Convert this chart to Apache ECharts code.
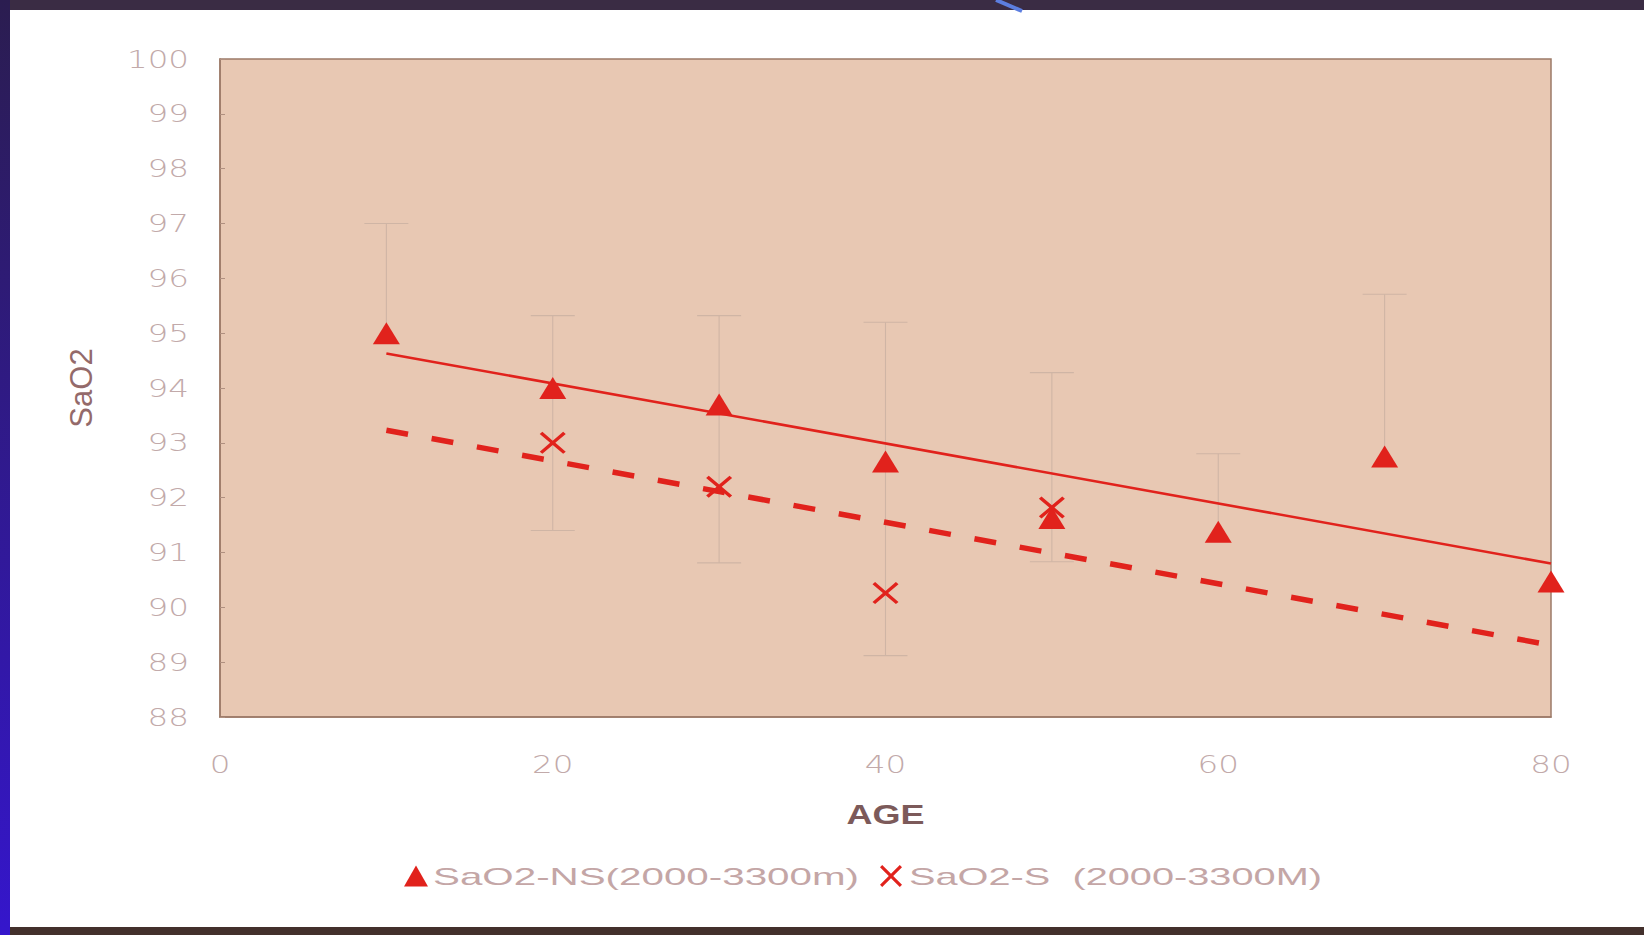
<!DOCTYPE html>
<html>
<head>
<meta charset="utf-8">
<script src="https://cdn.jsdelivr.net/npm/echarts@6/dist/echarts.min.js"></script>
<style>
html,body{margin:0;padding:0;background:#fff;}
#main{width:1644px;height:935px;}
#main text{white-space:pre;}
</style>
</head>
<body>
<div id="main"></div>
<script>
// ---- data ----
const nsName = 'SaO2-NS(2000-3300m)';
const sName = 'SaO2-S  (2000-3300M)';
const nsAges = [10, 20, 30, 40, 50, 60, 70, 80];
const nsValues = [95.0, 94.0, 93.7, 92.66, 91.63, 91.38, 92.75, 90.47];
const sAges = [20, 30, 40, 50];
const sValues = [93.0, 92.2, 90.26, 91.82];
const errAges = [10, 20, 30, 40, 50, 60, 70];
const errHigh = [97.0, 95.32, 95.32, 95.2, 94.28, 92.8, 95.71];
const errLow = [95.0, 91.4, 90.81, 89.12, 90.83, 91.38, 92.75];
const errLowCap = [0, 1, 1, 1, 1, 0, 0];
const trendAges = [10, 80];
const trendNS = [94.63, 90.8];
const trendS = [93.23, 89.31];
const xTicks = [0, 20, 40, 60, 80];
const yTicks = [88, 89, 90, 91, 92, 93, 94, 95, 96, 97, 98, 99, 100];

const RED = '#e1221c';
const xPath = 'path://M0,2L2,0L10,8L18,0L20,2L12,10L20,18L18,20L10,12L2,20L0,18L8,10Z';

const chart = echarts.init(document.getElementById('main'), null, {renderer: 'svg'});

const option = {
  animation: false,
  backgroundColor: '#ffffff',
  graphic: [
    {type: 'rect', z: 100, shape: {x: 0, y: 0, width: 1644, height: 10}, style: {fill: '#3a2c44'}, silent: true},
    {type: 'rect', z: 100, shape: {x: 0, y: 927, width: 1644, height: 8}, style: {fill: '#43302c'}, silent: true},
    {type: 'rect', z: 101, shape: {x: 0, y: 0, width: 10, height: 935}, silent: true,
      style: {fill: new echarts.graphic.LinearGradient(0, 0, 0, 1, [
        {offset: 0, color: '#2b1d50'}, {offset: 1, color: '#3516cc'}])}},
    {type: 'line', z: 102, shape: {x1: 996, y1: 0, x2: 1022, y2: 11}, style: {stroke: '#5c7ee0', lineWidth: 4}, silent: true}
  ],
  grid: {
    left: 220, right: 93, top: 59, bottom: 218,
    show: true, backgroundColor: '#e8c8b3', borderColor: '#9c7a68', borderWidth: 1.5
  },
  xAxis: {
    type: 'value', min: xTicks[0], max: xTicks[xTicks.length - 1], interval: xTicks[1] - xTicks[0],
    splitLine: {show: false},
    axisLine: {show: true, lineStyle: {color: '#9c7a68', width: 1.5}},
    axisTick: {show: false},
    axisLabel: {margin: 35, fontSize: 25, fontFamily: 'DejaVu Sans', fontWeight: 300, color: '#c2aaaa'},
    name: 'AGE', nameLocation: 'middle', nameGap: 84,
    nameTextStyle: {fontSize: 27, fontFamily: 'Liberation Sans', fontWeight: 'bold', color: '#7c5a5a'}
  },
  yAxis: {
    type: 'value', min: yTicks[0], max: yTicks[yTicks.length - 1], interval: 1,
    splitLine: {show: false},
    axisLine: {show: true, lineStyle: {color: '#9c7a68', width: 1.5}},
    axisTick: {show: true, inside: true, length: 5, lineStyle: {color: '#b09080'}},
    axisLabel: {margin: 31, fontSize: 25, fontFamily: 'DejaVu Sans', fontWeight: 300, color: '#c2aaaa'},
    name: 'SaO2', nameLocation: 'middle', nameGap: 123, nameRotate: 90,
    nameTextStyle: {fontSize: 31, fontFamily: 'Liberation Sans', color: '#946a6a'}
  },
  legend: [
    {data: [nsName], left: 399, top: 859, itemWidth: 24, itemHeight: 21, itemGap: 0,
      textStyle: {fontSize: 24, fontFamily: 'Liberation Sans', color: '#c4a6a6'}},
    {data: [sName], left: 875, top: 859, itemWidth: 26, itemHeight: 22, itemGap: 0,
      textStyle: {fontSize: 24, fontFamily: 'Liberation Sans', color: '#c4a6a6'}}
  ],
  series: [
    {
      type: 'custom', name: 'errorbars', silent: true, z: 1,
      encode: {x: 0, y: [1, 2]},
      data: errAges.map((a, i) => [a, errLow[i], errHigh[i], errLowCap[i]]),
      renderItem: function (params, api) {
        const x = api.value(0);
        const pLo = api.coord([x, api.value(1)]);
        const pHi = api.coord([x, api.value(2)]);
        const half = 22;
        const st = {stroke: '#cfb5a5', lineWidth: 1.1};
        const children = [
          {type: 'line', shape: {x1: pLo[0], y1: pLo[1], x2: pHi[0], y2: pHi[1]}, style: st},
          {type: 'line', shape: {x1: pHi[0] - half, y1: pHi[1], x2: pHi[0] + half, y2: pHi[1]}, style: st}
        ];
        if (api.value(3)) {
          children.push({type: 'line', shape: {x1: pLo[0] - half, y1: pLo[1], x2: pLo[0] + half, y2: pLo[1]}, style: st});
        }
        return {type: 'group', children: children};
      }
    },
    {
      type: 'line', name: 'trendNS', silent: true, z: 2, symbol: 'none',
      data: trendAges.map((a, i) => [a, trendNS[i]]),
      lineStyle: {color: RED, width: 2.6}
    },
    {
      type: 'line', name: 'trendS', silent: true, z: 2, symbol: 'none',
      data: trendAges.map((a, i) => [a, trendS[i]]),
      lineStyle: {color: RED, width: 5.5, type: [22, 24]}
    },
    {
      type: 'scatter', name: nsName, z: 3, symbol: 'triangle', symbolSize: [27, 22],
      itemStyle: {color: RED, opacity: 1},
      data: nsAges.map((a, i) => [a, nsValues[i]])
    },
    {
      type: 'scatter', name: sName, z: 3, symbol: xPath, symbolSize: [26, 22],
      itemStyle: {color: RED, opacity: 1},
      data: sAges.map((a, i) => [a, sValues[i]])
    }
  ]
};

chart.setOption(option);

function stretchTexts() {
  const texts = document.querySelectorAll('#main svg text');
  texts.forEach(function (t) {
    const s = t.textContent;
    let target = null, factor = null;
    if (/^\d+$/.test(s)) factor = 1.3;
    else if (s === 'AGE') target = 78;
    else if (s.indexOf('SaO2-NS') === 0) target = 426;
    else if (s.indexOf('SaO2-S') === 0) target = 413;
    else return;
    if (t.__nat == null) t.__nat = t.getComputedTextLength();
    const w = target || t.__nat * factor;
    t.setAttribute('textLength', w.toFixed(1));
    t.setAttribute('lengthAdjust', 'spacingAndGlyphs');
  });
}
stretchTexts();
chart.on('finished', stretchTexts);
setTimeout(stretchTexts, 50);
setTimeout(stretchTexts, 300);
</script>
</body>
</html>
